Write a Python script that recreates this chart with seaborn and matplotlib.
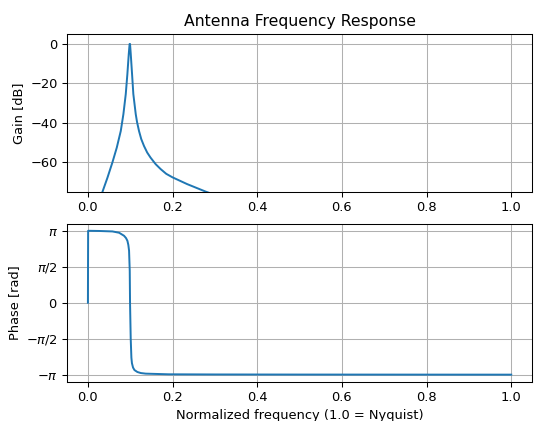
import numpy as np
import pandas as pd
import matplotlib
matplotlib.use("Agg")
import matplotlib.pyplot as plt
import seaborn as sns

PI = np.pi

# Gain curve (normalized frequency, dB)
gain_freq = [0.030, 0.0344, 0.0461, 0.0579, 0.0682, 0.0776, 0.0838, 0.0894,
             0.0932, 0.0965, 0.0985, 0.0995, 0.1012, 0.1043, 0.1073, 0.113,
             0.116, 0.1207, 0.126, 0.1325, 0.140, 0.148, 0.160, 0.1718,
             0.185, 0.200, 0.2343, 0.278, 0.310]
gain_db = [-79.0, -74.9, -67.8, -60.0, -52.5, -44.1, -35.6, -25.4,
           -15.3, -5.1, 0.0, 0.0, -5.1, -15.3, -25.4, -35.6,
           -39.5, -44.1, -48.2, -51.7, -55.0, -57.6, -60.9, -63.4,
           -65.8, -67.6, -71.0, -74.8, -77.3]

# Phase curve (normalized frequency, rad)
phase_freq = [0.0, 0.0005, 0.0266, 0.058, 0.0737, 0.0854, 0.090, 0.0933,
              0.0955, 0.0972, 0.0988, 0.0995, 0.1011, 0.1027, 0.104, 0.1066,
              0.110, 0.1168, 0.125, 0.1365, 0.191, 0.300, 0.500, 0.700, 1.000]
phase_rad = [0.0, PI - 0.002, PI - 0.01, PI - 0.03, PI - 0.087, PI - 0.22,
             PI - 0.32, PI - 0.44, PI - 0.62, PI - 0.87, PI - 1.75, 0.0,
             -PI / 2, -PI + 0.74, -PI + 0.5, -PI + 0.31, -PI + 0.2,
             -PI + 0.116, -PI + 0.07, -PI + 0.044, -PI + 0.015, -PI + 0.008,
             -PI + 0.004, -PI + 0.002, -PI]

phase_ticks = [PI, PI / 2, 0, -PI / 2, -PI]
phase_labels = [r"$\pi$", r"$\pi/2$", r"$0$", r"$-\pi/2$", r"$-\pi$"]
x_ticks = [0.0, 0.2, 0.4, 0.6, 0.8, 1.0]

gain_df = pd.DataFrame({"f": gain_freq, "g": gain_db})
phase_df = pd.DataFrame({"f": phase_freq, "p": phase_rad})

DPI = 94
fig = plt.figure(figsize=(534 / DPI, 421 / DPI), dpi=DPI)
ax1 = fig.add_axes([0.125, 0.544, 0.872, 0.375])
ax2 = fig.add_axes([0.125, 0.093, 0.872, 0.376])

sns.lineplot(data=gain_df, x="f", y="g", ax=ax1, estimator=None, sort=False,
             color="#1f77b4", linewidth=1.5)
ax1.set_xlim(-0.05, 1.05)
ax1.set_ylim(-75, 5)
ax1.set_yticks([-60, -40, -20, 0])
ax1.set_xticks(x_ticks)
ax1.set_xticklabels([f"{t:.1f}" for t in x_ticks])
ax1.set_title("Antenna Frequency Response")
ax1.set_ylabel("Gain [dB]")
ax1.set_xlabel("")
ax1.grid(True)

sns.lineplot(data=phase_df, x="f", y="p", ax=ax2, estimator=None, sort=False,
             color="#1f77b4", linewidth=1.5)
ax2.set_xlim(-0.05, 1.05)
ax2.set_ylim(-1.1 * PI, 1.1 * PI)
ax2.set_yticks(phase_ticks)
ax2.set_yticklabels(phase_labels)
ax2.set_xticks(x_ticks)
ax2.set_xticklabels([f"{t:.1f}" for t in x_ticks])
ax2.set_ylabel("Phase [rad]")
ax2.set_xlabel("Normalized frequency (1.0 = Nyquist)")
ax2.grid(True)

fig.savefig("out.png", dpi=DPI)
